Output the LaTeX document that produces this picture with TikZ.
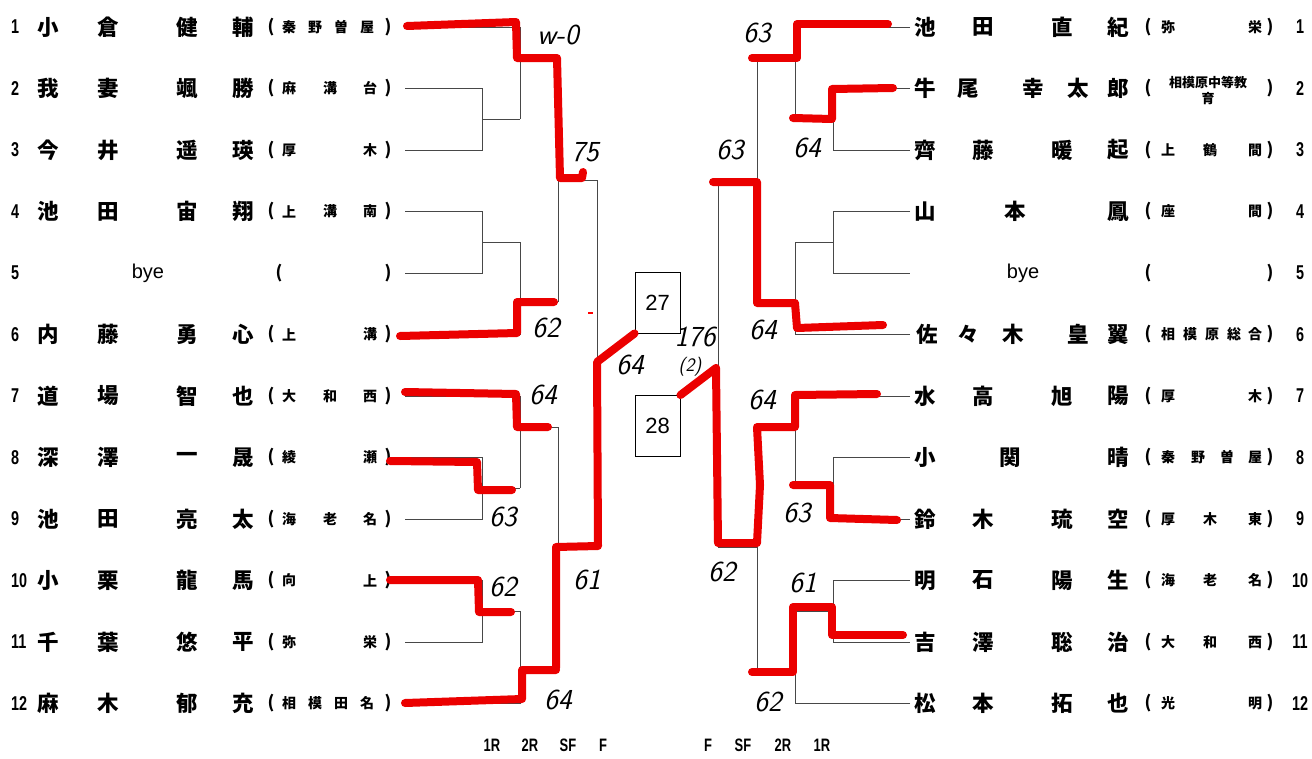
\documentclass[tikz,border=0pt]{standalone}
\usepackage{fontspec}
\newfontfamily\jp{Noto Sans CJK JP}
\newfontfamily\arial{Liberation Sans}
\newcommand\narrowtxt[1]{\scalebox{0.72}[1]{#1}}
\tikzset{
  br/.style={draw=black!72, line width=0.9pt},
  win/.style={draw=red!92!black, line width=8pt, line cap=round, line join=round},
  nm/.style={font=\fontsize{21.5}{21.5}\jp\bfseries, inner sep=0pt},
  sc/.style={font=\fontsize{14}{14}\jp\bfseries, inner sep=0pt},
  par/.style={font=\fontsize{17}{17}\jp\bfseries, inner sep=0pt},
  num/.style={font=\fontsize{20}{20}\arial\bfseries, inner sep=0pt},
  rnd/.style={font=\fontsize{18}{18}\arial\bfseries, inner sep=0pt},
  byetxt/.style={font=\fontsize{20}{20}\arial, inner sep=0pt},
  hw/.style={font=\fontsize{29}{29}\sffamily\slshape, inner sep=0pt},
  boxn/.style={draw=black, line width=0.9pt, minimum width=45pt, minimum height=61pt, inner sep=0pt, font=\fontsize{22}{22}\arial}
}
% name characters: side, row, list x/char
\newcommand\pn[3]{\foreach[count=\k] \x/\c in {#3}{\node[nm] (#1#2n\k) at (\x,{27+(#2-1)*61.5}) {\c};}}
\newcommand\ps[3]{\foreach[count=\k] \x/\c in {#3}{\node[sc] (#1#2s\k) at (\x,{27+(#2-1)*61.5}) {\c};}}
\newcommand\pp[2]{%
  \ifx#1L
    \node[par] (L#2po) at (271,{27+(#2-1)*61.5}) {(};
    \node[par] (L#2pc) at (388,{27+(#2-1)*61.5}) {)};
    \node[num,anchor=west] (L#2no) at (11,{27+(#2-1)*61.5}) {\narrowtxt{#2}};
  \else
    \node[par] (R#2po) at (1148,{27+(#2-1)*61.5}) {(};
    \node[par] (R#2pc) at (1270,{27+(#2-1)*61.5}) {)};
    \node[num] (R#2no) at (1300,{27+(#2-1)*61.5}) {\narrowtxt{#2}};
  \fi}
\begin{document}
\begin{tikzpicture}[x=1pt,y=-1pt]
\useasboundingbox[fill=white] (0,0) rectangle (1312,758);

% ---------- bracket (left), mirrored for right ----------
\foreach \sx/\sh in {1/0,-1/1315}{
\begin{scope}[xshift=\sh pt, xscale=\sx]
  % top half
  \draw[br] (405,27) -- (520,27);
  \draw[br] (405,88.5) -- (482,88.5) -- (482,150) -- (405,150);
  \draw[br] (482,119.25) -- (520,119.25);
  \draw[br] (520,27) -- (520,119.25);
  \draw[br] (520,58) -- (558,58);
  \draw[br] (405,211.5) -- (482,211.5) -- (482,273) -- (405,273);
  \draw[br] (482,242.25) -- (520,242.25);
  \draw[br] (405,334.5) -- (520,334.5);
  \draw[br] (520,242.25) -- (520,334.5);
  \draw[br] (520,302) -- (558,302);
  \draw[br] (558,58) -- (558,302);
  \draw[br] (558,180) -- (597,180);
  % bottom half
  \draw[br] (405,396) -- (520,396);
  \draw[br] (405,457.5) -- (482,457.5) -- (482,519) -- (405,519);
  \draw[br] (482,488) -- (520,488);
  \draw[br] (520,396) -- (520,488);
  \draw[br] (520,427) -- (558,427);
  \draw[br] (405,580.5) -- (482,580.5) -- (482,642) -- (405,642);
  \draw[br] (482,611) -- (520,611);
  \draw[br] (405,703.5) -- (520,703.5);
  \draw[br] (520,611) -- (520,703.5);
  \draw[br] (520,672) -- (558,672);
  \draw[br] (558,427) -- (558,672);
  \draw[br] (558,547) -- (597,547);
  \draw[br] (597,180) -- (597,547);
\end{scope}}

% ---------- boxes ----------
\node[boxn] (b27) at (657.5,302.5) {27};
\node[boxn] (b28) at (657.5,426) {28};

% ---------- left names ----------
\pn{L}{1}{48/小,108/倉,187/健,243/輔}   \ps{L}{1}{289/秦,315/野,341/曽,367/屋} \pp{L}{1}
\pn{L}{2}{48/我,108/妻,187/颯,243/勝}   \ps{L}{2}{289/麻,330/溝,370/台} \pp{L}{2}
\pn{L}{3}{48/今,108/井,187/遥,243/瑛}   \ps{L}{3}{289/厚,370/木} \pp{L}{3}
\pn{L}{4}{48/池,108/田,187/宙,243/翔}   \ps{L}{4}{289/上,330/溝,370/南} \pp{L}{4}
\node[byetxt] (L5bye) at (148,273) {bye};
\node[par] (L5po) at (279,273) {(}; \node[par] (L5pc) at (388,273) {)};
\node[num,anchor=west] (L5no) at (11,273) {\narrowtxt{5}};
\pn{L}{6}{48/内,108/藤,187/勇,243/心}   \ps{L}{6}{289/上,370/溝} \pp{L}{6}
\pn{L}{7}{48/道,108/場,187/智,243/也}   \ps{L}{7}{289/大,330/和,370/西} \pp{L}{7}
\pn{L}{8}{48/深,108/澤,187/一,243/晟}   \ps{L}{8}{289/綾,370/瀬} \pp{L}{8}
\pn{L}{9}{48/池,108/田,187/亮,243/太}   \ps{L}{9}{289/海,330/老,370/名} \pp{L}{9}
\pn{L}{10}{48/小,108/栗,187/龍,243/馬}  \ps{L}{10}{289/向,370/上} \pp{L}{10}
\pn{L}{11}{48/千,108/葉,187/悠,243/平}  \ps{L}{11}{289/弥,370/栄} \pp{L}{11}
\pn{L}{12}{48/麻,108/木,187/郁,243/充}  \ps{L}{12}{289/相,315/模,341/田,367/名} \pp{L}{12}

% ---------- right names ----------
\pn{R}{1}{925/池,983/田,1062/直,1118/紀}  \ps{R}{1}{1168/弥,1255/栄} \pp{R}{1}
\pn{R}{2}{925/牛,968/尾,1033/幸,1078/太,1118/郎}
\node[font=\fontsize{13}{16}\jp\bfseries, inner sep=0pt, align=center] (R2s) at (1208,90) {相模原中等教\\育};
\pp{R}{2}
\pn{R}{3}{925/齊,983/藤,1062/暖,1118/起}  \ps{R}{3}{1168/上,1210/鶴,1255/間} \pp{R}{3}
\pn{R}{4}{925/山,1015/本,1118/鳳}  \ps{R}{4}{1168/座,1255/間} \pp{R}{4}
\node[byetxt] (R5bye) at (1023,273) {bye};
\pp{R}{5}
\pn{R}{6}{927/佐,968/々,1013/木,1078/皇,1118/翼}  \ps{R}{6}{1168/相,1190/模,1212/原,1234/総,1255/合} \pp{R}{6}
\pn{R}{7}{925/水,983/高,1062/旭,1118/陽}  \ps{R}{7}{1168/厚,1255/木} \pp{R}{7}
\pn{R}{8}{925/小,1010/関,1118/晴}  \ps{R}{8}{1168/秦,1198/野,1227/曽,1255/屋} \pp{R}{8}
\pn{R}{9}{925/鈴,983/木,1062/琉,1118/空}  \ps{R}{9}{1168/厚,1210/木,1255/東} \pp{R}{9}
\pn{R}{10}{925/明,983/石,1062/陽,1118/生}  \ps{R}{10}{1168/海,1210/老,1255/名} \pp{R}{10}
\pn{R}{11}{925/吉,983/澤,1062/聡,1118/治}  \ps{R}{11}{1168/大,1210/和,1255/西} \pp{R}{11}
\pn{R}{12}{925/松,983/本,1062/拓,1118/也}  \ps{R}{12}{1168/光,1255/明} \pp{R}{12}

% ---------- round labels ----------
\foreach \x/\t/\n in {492/1R/a,530/2R/b,568/SF/c,603/F/d,708/F/e,743/SF/f,783/2R/g,822/1R/h}
  \node[rnd] (rl\n) at (\x,745) {\narrowtxt{\t}};

% ---------- red winner marks ----------
\draw[win] (407,26) -- (516,22) -- (517,58) -- (557,58) -- (560,178) -- (582,178) -- (583,172);
\draw[win] (400,336) -- (517,333) -- (517,302) -- (554,302);
\draw[win] (556,668) -- (556,547) -- (598,546) -- (597,362) -- (b27.south west);
\draw[red, line width=2pt] (588,313) -- (593,313);
\draw[win] (405,703) -- (522,699) -- (522,670) -- (556,670);
\draw[win] (405,392) -- (516,394) -- (517,427) -- (548,427);
\draw[win] (390,461) -- (477,462) -- (478,490) -- (512,490);
\draw[win] (390,580) -- (478,580) -- (479,612) -- (511,612);

\draw[win] (888,24) -- (797,24) -- (797,58) -- (752,58);
\draw[win] (893,88) -- (832,89) -- (832,119) -- (793,118);
\draw[win] (883,325) -- (797,328) -- (795,303) -- (757,303) -- (757,182) -- (713,182);
\draw[win] (b28.north east) -- (716,368) -- (718,543) -- (757,543) -- (760,485) -- (757,427) -- (795,427) -- (795,395) -- (877,394);
\draw[win] (897,520) -- (830,518) -- (830,485) -- (793,485);
\draw[win] (903,635) -- (832,635) -- (832,607) -- (793,607) -- (793,672) -- (752,672);

% ---------- handwritten scores ----------
\node[hw] (s1) at (558,35) {w-0};
\node[hw] (s2) at (585,152) {75};
\node[hw] (s3) at (546,328) {62};
\node[hw] (s4) at (630,365) {64};
\node[hw] (s5) at (695,337) {176};
\node[hw, font=\fontsize{19}{19}\sffamily\slshape] (s6) at (690,367) {(2)};
\node[hw] (s7) at (543,395) {64};
\node[hw] (s8) at (503,517) {63};
\node[hw] (s9) at (503,587) {62};
\node[hw] (s10) at (587,580) {61};
\node[hw] (s11) at (558,700) {64};
\node[hw] (s12) at (757,33) {63};
\node[hw] (s13) at (807,148) {64};
\node[hw] (s14) at (730,150) {63};
\node[hw] (s15) at (763,330) {64};
\node[hw] (s16) at (762,400) {64};
\node[hw] (s17) at (797,513) {63};
\node[hw] (s18) at (722,572) {62};
\node[hw] (s19) at (803,583) {61};
\node[hw] (s20) at (768,702) {62};
\end{tikzpicture}
\end{document}
